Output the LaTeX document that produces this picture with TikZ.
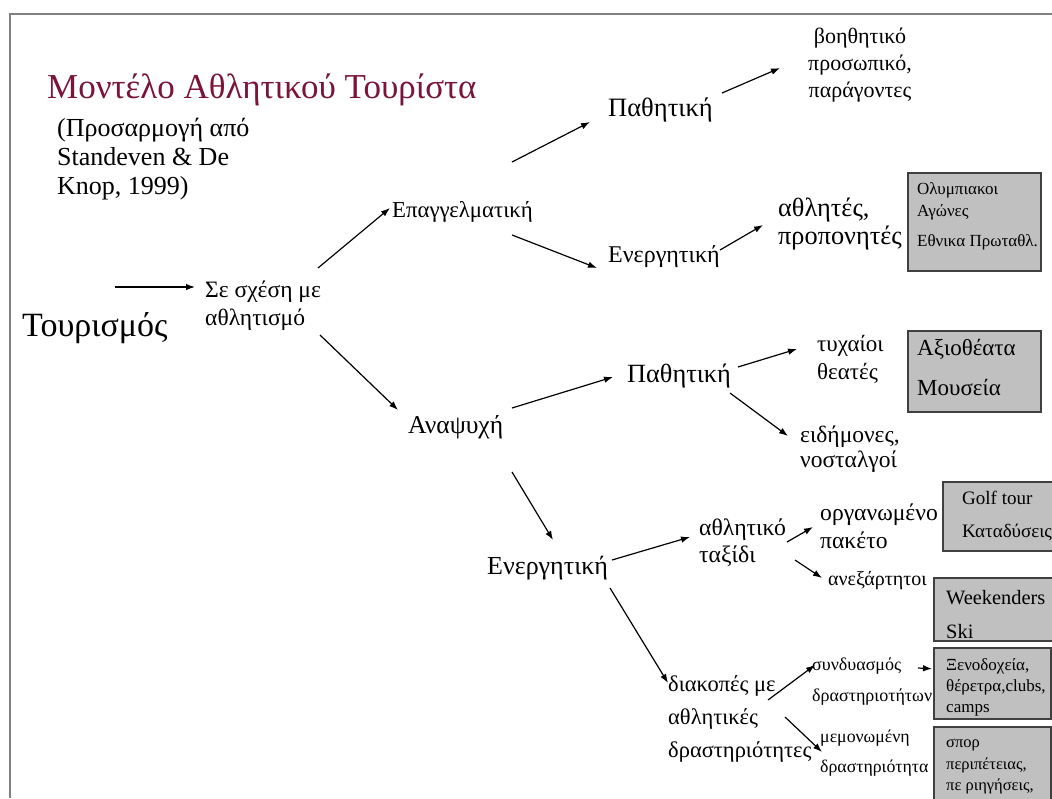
\documentclass[tikz,border=0pt]{standalone}
\usepackage{fontspec}
\setmainfont{Liberation Serif}
\usetikzlibrary{arrows.meta,positioning}
\definecolor{titlered}{RGB}{122,20,58}
\definecolor{framegray}{RGB}{128,128,128}
\definecolor{boxgray}{RGB}{192,192,192}
\definecolor{boxline}{RGB}{64,64,64}
\newcommand{\fsz}[2]{\fontsize{#1}{#2}\selectfont}

\begin{document}
\begin{tikzpicture}[> = {Latex[length=9pt,width=6.5pt]}, x=1pt, y=-1pt]
  % Στυλ
  \tikzstyle{lbl}=[inner sep=0pt, anchor=west, align=left]
  \tikzstyle{lblc}=[inner sep=0pt, anchor=west, align=center]
  \tikzstyle{greybox}=[draw=boxline, fill=boxgray, line width=1.5pt, inner sep=0pt, anchor=north west]
  \tikzstyle{arr}=[->, line width=1.2pt]

  % Πλαίσιο
  \useasboundingbox (0,0) rectangle (1052,798);
  \fill[white] (0,0) rectangle (1052,798);
  \clip (0,0) rectangle (1052,798);
  \draw[framegray, line width=1.5pt] (10,798) -- (10,14) -- (1052,14);

  % Τίτλος
  \node[lbl, text=titlered, font=\fsz{35}{40}] (title) at (47,90) {Μοντέλο Αθλητικού Τουρίστα};
  \node[lbl, font=\fsz{26}{29}] (sub) at (57,159) {(Προσαρμογή από\\Standeven \& De\\Knop, 1999)};

  % Κόμβοι
  \node[lbl, font=\fsz{34}{38}] (tour) at (22,328) {Τουρισμός};
  \node[lbl, font=\fsz{23.5}{28}] (sxesi) at (205,306) {Σε σχέση με\\αθλητισμό};
  \node[lbl, font=\fsz{22.8}{26}] (epag) at (392,212) {Επαγγελματική};
  \node[lbl, font=\fsz{25.6}{30}] (anap) at (408,427) {Αναψυχή};
  \node[lbl, font=\fsz{26.5}{30}] (pathA) at (608,110) {Παθητική};
  \node[lbl, font=\fsz{24}{26}] (energA) at (608,257) {Ενεργητική};
  \node[lblc, font=\fsz{22}{27}] (voith) at (808,65) {βοηθητικό\\προσωπικό,\\παράγοντες};
  \node[lbl, font=\fsz{26.3}{28}] (athl) at (778,224) {αθλητές,\\προπονητές};
  \node[lbl, font=\fsz{26.3}{30}] (pathB) at (627,376) {Παθητική};
  \node[lbl, font=\fsz{23}{28}] (tyx) at (817,359) {τυχαίοι\\θεατές};
  \node[lbl, font=\fsz{23.5}{25}] (eid) at (800,449) {ειδήμονες,\\νοσταλγοί};
  \node[lbl, font=\fsz{26}{30}] (energB) at (487,568) {Ενεργητική};
  \node[lbl, font=\fsz{23.7}{27}] (athtax) at (699,543) {αθλητικό\\ταξίδι};
  \node[lbl, font=\fsz{23.6}{28}] (organ) at (820,526) {οργανωμένο\\πακέτο};
  \node[lbl, font=\fsz{20}{20}] (anex) at (828,581) {ανεξάρτητοι};
  \node[lbl, font=\fsz{22.5}{33}] (diak) at (668,719) {διακοπές με\\αθλητικές\\δραστηριότητες};
  \node[lbl, font=\fsz{18}{31}] (syn) at (812,682) {συνδυασμός\\δραστηριοτήτων};
  \node[lbl, font=\fsz{17.8}{30}] (mem) at (820,753) {μεμονωμένη\\δραστηριότητα};

  % Γκρι πλαίσια
  \node[greybox, minimum width=133, minimum height=98] (box1) at (907,172) {};
  \node[greybox, minimum width=133, minimum height=81] (box2) at (907,330) {};
  \node[greybox, minimum width=130, minimum height=69] (box3) at (942,481) {};
  \node[greybox, minimum width=130, minimum height=63] (box4) at (933,577) {};
  \node[greybox, minimum width=117, minimum height=71] (box5) at (933,647) {};
  \node[greybox, minimum width=117, minimum height=90] (box6) at (933,726) {};
  \node[lbl, font=\fsz{17}{22}] (box1txt) at (917,216) {Ολυμπιακοι\\Αγώνες\\[8pt]Εθνικα Πρωταθλ.};
  \node[lbl, font=\fsz{23}{40}] (box2txt) at (917,367) {Αξιοθέατα\\Μουσεία};
  \node[lbl, font=\fsz{19}{33}] (box3txt) at (962,516) {Golf tour\\Καταδύσεις};
  \node[lbl, font=\fsz{20.4}{34}] (box4txt) at (946,615) {Weekenders\\Ski};
  \node[lbl, font=\fsz{17}{21}] (box5txt) at (946,687) {Ξενοδοχεία,\\θέρετρα,clubs,\\camps};
  \node[lbl, font=\fsz{16.5}{21.5}] (box6txt) at (946,767) {σπορ\\περιπέτειας,\\πε ριηγήσεις,};

  % Βέλη
  \draw[arr] ([shift={(93,-41)}]tour.west) -- ([shift={(-10,-19)}]sxesi.west);
  \draw[arr] ([shift={(113,-38)}]sxesi.west) -- ([shift={(-2,-4)}]epag.west);
  \draw[arr] ([shift={(115,29)}]sxesi.west) -- ([shift={(-10,-17)}]anap.west);
  \draw[arr] ([shift={(120,-50)}]epag.west) -- ([shift={(-18,12)}]pathA.west);
  \draw[arr] ([shift={(120,23)}]epag.west) -- ([shift={(-11,11)}]energA.west);
  \draw[arr] ([shift={(114,-17)}]pathA.west) -- ([shift={(-28,3)}]voith.west);
  \draw[arr] ([shift={(112,-7)}]energA.west) -- ([shift={(-15,1)}]athl.west);
  \draw[arr] ([shift={(104,-19)}]anap.west) -- ([shift={(-14,1)}]pathB.west);
  \draw[arr] ([shift={(111,-9)}]pathB.west) -- ([shift={(-20,-10)}]tyx.west);
  \draw[arr] ([shift={(103,17)}]pathB.west) -- ([shift={(-12,-13)}]eid.west);
  \draw[arr] ([shift={(104,45)}]anap.west) -- ([shift={(66,-28)}]energB.west);
  \draw[arr] ([shift={(125,-8)}]energB.west) -- ([shift={(-9,-6)}]athtax.west);
  \draw[arr] ([shift={(88,-1)}]athtax.west) -- ([shift={(-7,1)}]organ.west);
  \draw[arr] ([shift={(96,17)}]athtax.west) -- ([shift={(-6,-3)}]anex.west);
  \draw[arr] ([shift={(123,20)}]energB.west) -- ([shift={(0,-36)}]diak.west);
  \draw[arr] ([shift={(100,-19)}]diak.west) -- ([shift={(3,-17)}]syn.west);
  \draw[arr] ([shift={(106,-14)}]syn.west) -- ([shift={(-1,-14.5)}]box5.west);
  \draw[arr] ([shift={(117,-2)}]diak.west) -- ([shift={(2,-1)}]mem.west);
\end{tikzpicture}
\end{document}
